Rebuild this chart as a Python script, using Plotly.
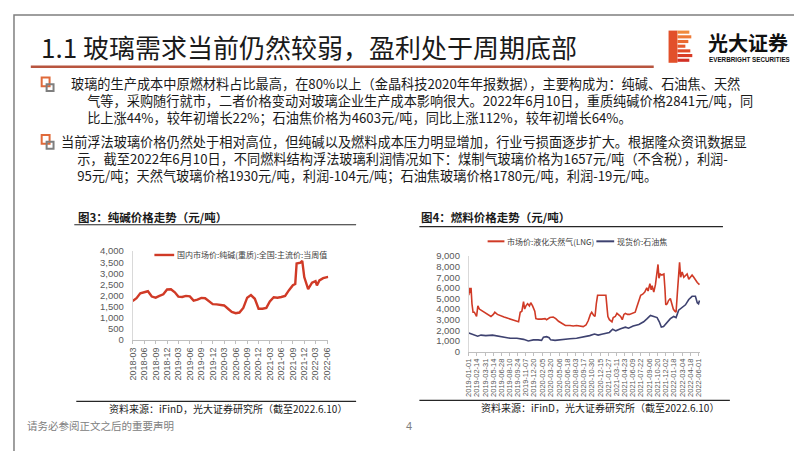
import plotly.graph_objects as go

W, H = 802, 451
def px(x): return x / W
def py(y): return 1 - y / H

# ---------------- data: chart 1 (soda ash, monthly) ----------------
soda_dates = ["2018-03-01","2018-04-01","2018-05-01","2018-06-01","2018-07-01","2018-08-01","2018-09-01",
              "2018-10-01","2018-11-01","2018-12-01","2019-01-01","2019-02-01","2019-03-01","2019-04-01",
              "2019-05-01","2019-06-01","2019-07-01","2019-08-01","2019-09-01","2019-10-01","2019-11-01",
              "2019-12-01","2020-01-01","2020-02-01","2020-03-01","2020-04-01","2020-05-01","2020-06-01",
              "2020-07-01","2020-08-01","2020-09-01","2020-10-01","2020-11-01","2020-12-01","2021-01-01",
              "2021-02-01","2021-03-01","2021-04-01","2021-05-01","2021-06-01","2021-07-01","2021-08-01",
              "2021-09-01","2021-09-20","2021-10-01","2021-11-01","2021-11-15","2021-12-01","2022-01-01",
              "2022-02-01","2022-03-01","2022-03-12","2022-04-01","2022-05-01","2022-06-10"]
soda_vals = [1750,1875,2095,2140,2190,1950,1900,1980,2050,2270,2280,2140,1950,1930,
             1980,1960,1770,1815,1890,1875,1730,1610,1600,1580,1550,1400,1260,1200,
             1230,1440,1900,2020,1850,1400,1400,1440,1730,1920,1900,1930,1980,2240,
             2460,2520,3440,3480,3560,2830,2290,2580,2650,2450,2680,2780,2841]
soda_tick_vals = ["2018-03-01","2018-06-01","2018-09-01","2018-12-01","2019-03-01","2019-06-01",
                  "2019-09-01","2019-12-01","2020-03-01","2020-06-01","2020-09-01","2020-12-01",
                  "2021-03-01","2021-06-01","2021-09-01","2021-12-01","2022-03-01","2022-06-01"]
soda_tick_text = ["2018-03","2018-06","2018-09","2018-12","2019-03","2019-06","2019-09","2019-12",
                  "2020-03","2020-06","2020-09","2020-12","2021-03","2021-06","2021-09","2021-12",
                  "2022-03","2022-06"]

# ---------------- data: chart 2 (fuel) ----------------
lng_dates = ["2019-01-01","2019-01-04","2019-01-10","2019-01-13","2019-01-18","2019-01-24","2019-01-31",
             "2019-02-07","2019-02-12","2019-02-19","2019-02-27","2019-03-08","2019-03-26","2019-04-13",
             "2019-05-01","2019-05-14","2019-05-22","2019-06-05","2019-06-23","2019-07-11","2019-07-28",
             "2019-08-14","2019-09-01","2019-09-19","2019-09-28","2019-10-07","2019-10-16","2019-10-25",
             "2019-10-31","2019-11-07","2019-11-16","2019-11-26","2019-12-03","2019-12-13","2019-12-25",
             "2019-12-31","2020-01-12","2020-01-31","2020-02-19","2020-02-27","2020-03-16","2020-04-03",
             "2020-04-17","2020-05-02","2020-05-21","2020-06-08","2020-07-03","2020-07-21","2020-08-08",
             "2020-08-26","2020-09-13","2020-09-28","2020-10-10","2020-10-22","2020-10-29","2020-11-09",
             "2020-11-16","2020-11-23","2020-11-30","2020-12-21","2021-01-14","2021-01-21","2021-01-25",
             "2021-02-02","2021-02-16","2021-02-23","2021-03-06","2021-03-15","2021-03-26","2021-04-04",
             "2021-04-13","2021-04-22","2021-04-30","2021-05-11","2021-05-22","2021-06-07","2021-06-22",
             "2021-07-01","2021-07-12","2021-07-22","2021-08-02","2021-08-13","2021-08-24","2021-08-31",
             "2021-09-10","2021-09-17","2021-09-22","2021-10-01","2021-10-10","2021-10-17","2021-10-24",
             "2021-10-29","2021-11-05","2021-11-14","2021-11-25","2021-12-01","2021-12-05","2021-12-13",
             "2021-12-20","2021-12-30","2022-01-08","2022-01-15","2022-01-23","2022-01-30","2022-02-06",
             "2022-02-13","2022-02-18","2022-02-24","2022-03-04","2022-03-13","2022-03-22","2022-03-31",
             "2022-04-09","2022-04-18","2022-04-27","2022-05-06","2022-05-15","2022-05-25","2022-06-06"]
lng_vals = [5300,6000,5500,6000,4500,3700,3700,
            3400,3300,4300,4000,3900,3700,3450,
            3300,3500,3700,3500,3350,3250,3150,
            3050,2950,2850,2800,3700,3800,4700,
            4000,4300,4500,4300,4600,4300,3800,
            3100,3050,3050,3100,3000,3200,3250,
            3100,2850,2600,2450,2450,2400,2450,
            2400,2350,2500,2900,3500,3700,3400,
            3300,4500,5300,5300,5300,4000,3300,
            3000,2800,3200,3300,3600,3400,3300,
            3000,3500,3600,3500,3500,3600,3700,
            4200,4700,5300,5400,5600,6000,5700,
            6400,5800,6200,5600,6300,7300,8200,
            6900,7300,7200,7300,5800,4400,4500,
            4800,5000,4300,4000,3800,3700,5500,
            7000,8400,7000,7500,7000,7200,7300,
            6800,7000,7200,7000,6700,6500,6300]

coke_dates = ["2019-01-01","2019-01-22","2019-02-18","2019-03-08","2019-04-03","2019-05-10","2019-06-05",
              "2019-07-11","2019-08-14","2019-09-19","2019-10-25","2019-11-20","2019-12-17","2020-01-12",
              "2020-01-31","2020-02-10","2020-02-27","2020-03-12","2020-03-20","2020-04-13","2020-05-21",
              "2020-07-03","2020-08-08","2020-09-13","2020-10-18","2020-11-13","2020-12-03","2020-12-28",
              "2021-02-02","2021-02-20","2021-03-09","2021-04-04","2021-04-30","2021-05-17","2021-06-11",
              "2021-07-12","2021-08-07","2021-08-26","2021-09-13","2021-10-01","2021-10-19","2021-10-31",
              "2021-11-11","2021-11-23","2021-12-11","2021-12-30","2022-01-17","2022-01-30","2022-02-13",
              "2022-03-04","2022-03-22","2022-04-09","2022-04-27","2022-05-15","2022-05-25","2022-06-01",
              "2022-06-06"]
coke_vals = [1750,1650,1450,1550,1500,1550,1450,
             1350,1250,1250,1150,1000,1100,1100,
             1050,1350,1400,1300,1100,1050,1150,
             1200,1250,1350,1500,1650,1550,1650,
             1800,2100,1950,2150,2300,2200,2400,
             2550,2800,3100,3400,3300,3200,2800,
             2300,2350,2700,3100,3300,3200,3900,
             4200,4400,4900,5200,5200,4600,4500,
             4800]

fuel_tick_text = ["2019-01-01","2019-02-14","2019-03-31","2019-05-14","2019-06-28","2019-08-10",
                  "2019-09-24","2019-11-07","2019-12-20","2020-02-05","2020-03-20","2020-05-06",
                  "2020-06-18","2020-08-03","2020-09-17","2020-10-30","2020-12-15","2021-01-27",
                  "2021-03-11","2021-04-23","2021-06-09","2021-07-22","2021-09-06","2021-10-20",
                  "2021-12-02","2022-01-18","2022-03-04","2022-04-18","2022-06-01"]

soda_name = "国内市场价:纯碱(重质):全国:主流价:当周值"
lng_name = "市场价:液化天然气(LNG)"
coke_name = "现货价:石油焦"

RED = "#D03A26"
NAVY = "#3E4270"
CJK = "Noto Sans CJK SC"
NUM = "Liberation Sans"
TICKC = "#595959"

fig = go.Figure()
fig.add_trace(go.Scatter(x=soda_dates, y=soda_vals, mode="lines", name=soda_name,
                         line=dict(color=RED, width=2.4), xaxis="x", yaxis="y"))
fig.add_trace(go.Scatter(x=lng_dates, y=lng_vals, mode="lines", name=lng_name,
                         line=dict(color=RED, width=1.6), xaxis="x2", yaxis="y2"))
fig.add_trace(go.Scatter(x=coke_dates, y=coke_vals, mode="lines", name=coke_name,
                         line=dict(color=NAVY, width=1.6), xaxis="x2", yaxis="y2"))

axis_common = dict(showgrid=False, zeroline=False, linecolor="#BFBFBF", linewidth=1, showline=True,
                   ticks="outside", tickcolor="#BFBFBF", ticklen=3)
yaxis_common = dict(showgrid=False, zeroline=False, showline=True, linecolor="#D9D9D9", ticks="",
                    tickformat=",", ticklabelstandoff=6)

fig.update_layout(
    width=W, height=H, margin=dict(l=0, r=0, t=0, b=0),
    paper_bgcolor="white", plot_bgcolor="white",
    font=dict(family=CJK, color="#222"),
    showlegend=False,
    xaxis=dict(domain=[px(121), px(319)], anchor="y", type="date",
               range=["2018-03-01", "2022-06-12"], tickmode="array",
               tickvals=soda_tick_vals, ticktext=soda_tick_text, tickangle=-90,
               tickfont=dict(family=NUM, size=9, color=TICKC), **axis_common),
    yaxis=dict(domain=[py(334), py(243)], anchor="x", range=[0, 4000], dtick=500,
               tickfont=dict(family=NUM, size=9.5, color=TICKC), **yaxis_common),
    xaxis2=dict(domain=[px(461), px(695)], anchor="y2", type="date",
                range=["2019-01-01", "2022-06-10"], tickmode="array",
                tickvals=fuel_tick_text, ticktext=fuel_tick_text, tickangle=-90,
                tickfont=dict(family=NUM, size=7.5, color=TICKC), **axis_common),
    yaxis2=dict(domain=[py(346), py(248)], anchor="x2", range=[0, 9000], dtick=1000,
                tickfont=dict(family=NUM, size=9.5, color=TICKC), **yaxis_common),
)

shapes = []
ann = []

def text(t, x, y, size, color="#1A1A1A", anchor="left", family=CJK, h=None):
    a = dict(text=t, xref="paper", yref="paper", x=px(x), y=py(y), xanchor=anchor, align="left",
             yanchor="middle", showarrow=False, font=dict(family=family, size=size, color=color))
    if h:
        a["height"] = h
    ann.append(a)

def rect(x0, x1, y0, y1, **kw):
    shapes.append(dict(type="rect", xref="paper", yref="paper", x0=px(x0), x1=px(x1),
                       y0=py(y1), y1=py(y0), **kw))

def hline(x0, x1, y, color, width):
    shapes.append(dict(type="line", xref="paper", yref="paper", x0=px(x0), x1=px(x1), y0=py(y), y1=py(y),
                       line=dict(color=color, width=width)))

# frame
rect(1, 800.5, 1, 450, line=dict(color="#7F7F7F", width=1.5))
# header
hline(18, 648, 54, "#B8553F", 2.5)
text("1.1 玻璃需求当前仍然较弱，盈利处于周期底部", 26, 33, 26)
# logo: left bar + stripes
logo_cols = ["#F08A3C", "#EE7A36", "#EA6A31", "#E55A2D", "#E04A29", "#D93B26", "#D22F24"]
rect(663, 672, 17, 50, line=dict(width=0), fillcolor="#E2502A")
stripe_x1 = [684, 686, 683, 680, 685, 687, 684]
for i, c in enumerate(logo_cols):
    y0 = 17 + i * 4.8
    rect(672, stripe_x1[i], y0, y0 + 3.2, line=dict(width=0), fillcolor=c)
text("<b>光大证券</b>", 701, 29, 20, "#111", h=22)
text("<b>EVERBRIGHT SECURITIES</b>", 702, 46.5, 6.3, "#111", family=NUM, h=8)

# bullets
def bullet(yc):
    rect(29, 37, yc - 6, yc + 3, line=dict(color="#E06A3A", width=2))
    rect(34, 41, yc + 1, yc + 8, line=dict(color="#7F7F7F", width=2))
bullet(71)
bullet(130)
IND = "\u3000&nbsp;"
para1 = ("玻璃的生产成本中原燃材料占比最高，在80%以上（金晶科技2020年年报数据），主要构成为：纯碱、石油焦、天然<br>"
         + IND + "气等，采购随行就市，二者价格变动对玻璃企业生产成本影响很大。2022年6月10日，重质纯碱价格2841元/吨，同<br>"
         + IND + "比上涨44%，较年初增长22%；石油焦价格为4603元/吨，同比上涨112%，较年初增长64%。")
para2 = ("当前浮法玻璃价格仍然处于相对高位，但纯碱以及燃料成本压力明显增加，行业亏损面逐步扩大。根据隆众资讯数据显<br>"
         + IND + "示，截至2022年6月10日，不同燃料结构浮法玻璃利润情况如下：煤制气玻璃价格为1657元/吨（不含税），利润-<br>"
         + IND + "95元/吨；天然气玻璃价格1930元/吨，利润-104元/吨；石油焦玻璃价格1780元/吨，利润-19元/吨。")
text(para1, 57, 89, 13.2)
text(para2, 47, 148.5, 13.2)

# chart titles + rules
text("<b>图3：纯碱价格走势（元/吨）</b>", 64, 208, 11.5)
text("<b>图4：燃料价格走势（元/吨）</b>", 411, 208, 11.5)
hline(62, 347, 216, "#262626", 1.2)
hline(411, 718, 218, "#262626", 1.2)
hline(64, 347, 397, "#262626", 1.2)
hline(411, 725, 396, "#262626", 1.2)

# legends (drawn manually to match the compact original)
hline(143, 163, 247, RED, 2.4)
text(soda_name, 164, 247, 8, "#404040")
hline(480, 497, 233, RED, 2)
text(lng_name, 498, 233, 8, "#404040")
hline(590, 608, 233, NAVY, 2)
text(coke_name, 609, 233, 8, "#404040")

src = "资料来源：iFinD，光大证券研究所（截至2022.6.10）"
text(src, 340, 404, 10, anchor="right")
text(src, 716, 403, 10, anchor="right")
# footer
text("请务必参阅正文之后的重要声明", 12, 422, 10.5, "#808080")
text("4", 400, 422, 11, "#808080", anchor="center", family=NUM)

fig.update_layout(shapes=shapes, annotations=ann)
fig.write_html("out.html")
